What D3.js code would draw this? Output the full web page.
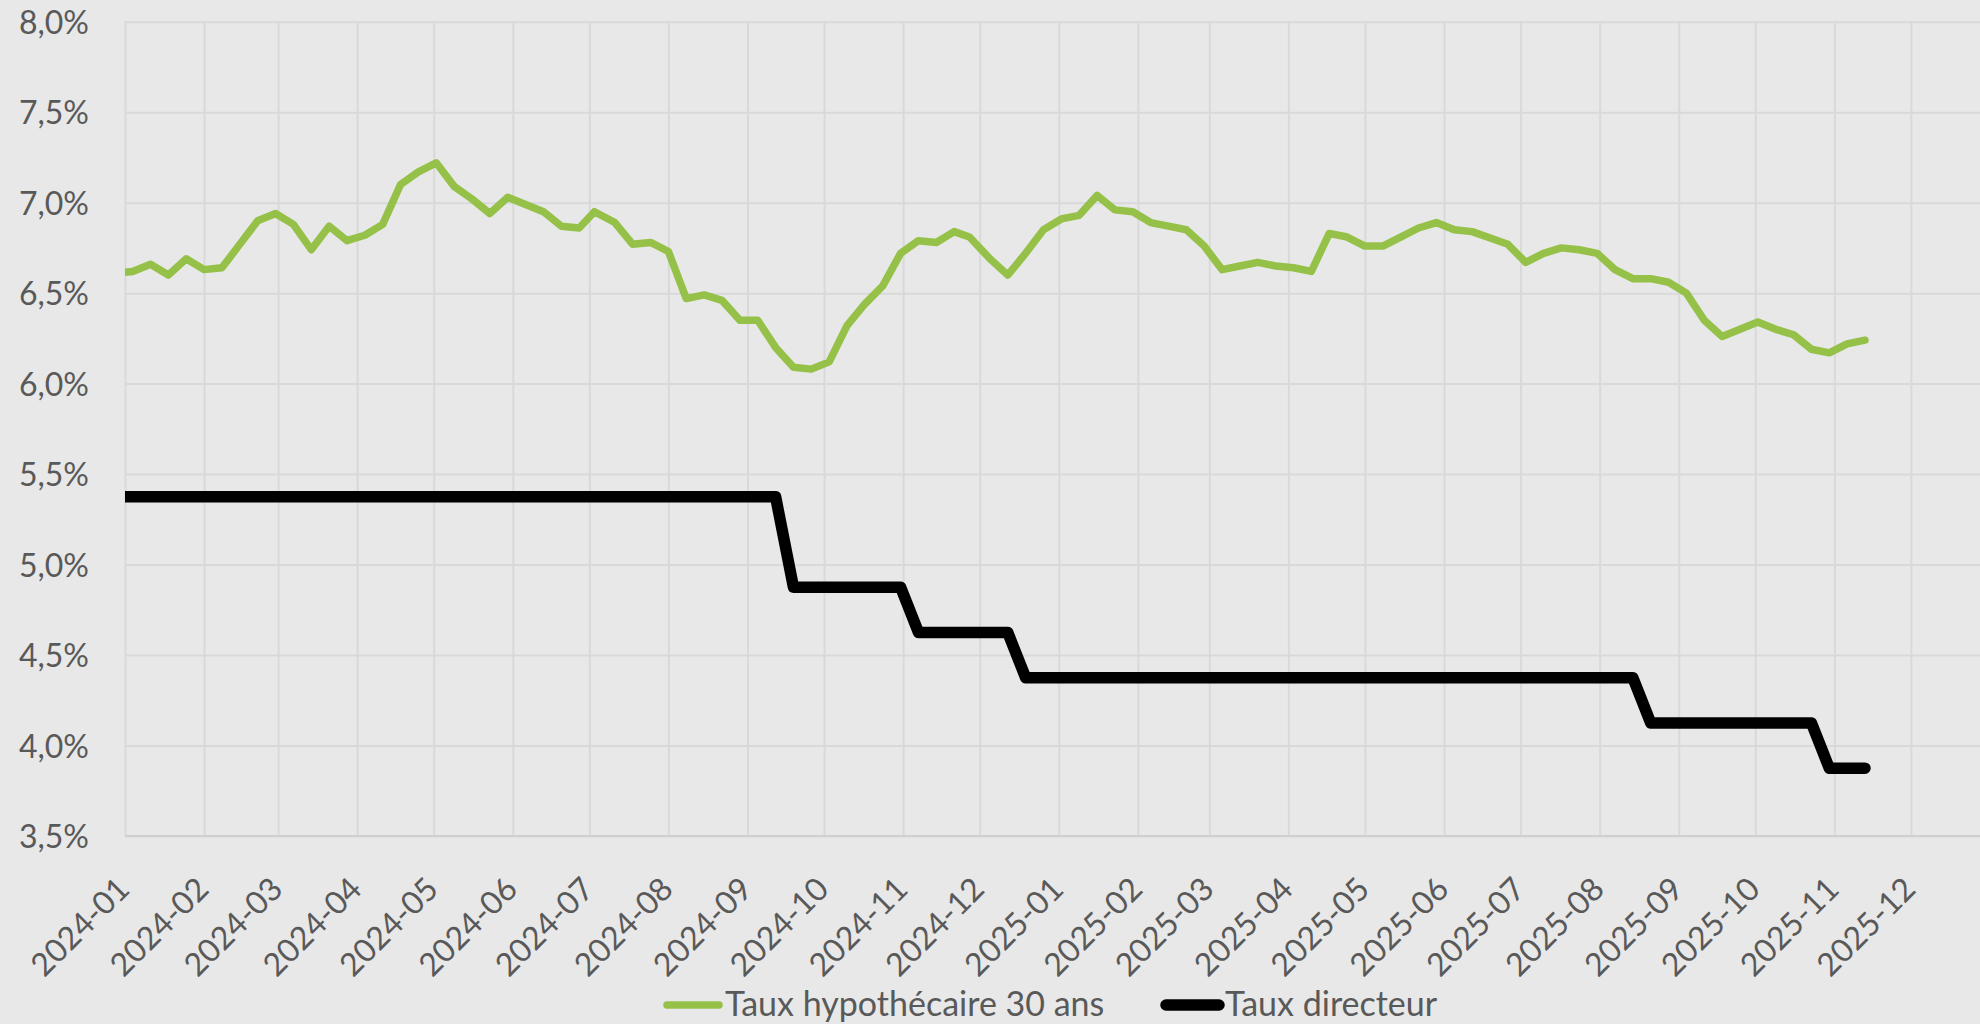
<!DOCTYPE html>
<html>
<head>
<meta charset="utf-8">
<script src="https://cdn.jsdelivr.net/npm/d3@7"></script>
<style>
  html, body { margin: 0; padding: 0; background: #e8e8e8; }
  svg { display: block; }
  text { font-family: Lato, "Open Sans", sans-serif; fill: #595959; }
</style>
</head>
<body>
<script>
// Variables
var width = 1980;
var height = 1024;
var margin = {top: 21.7, left: 125, bottom: 836};

// Data (weekly, Thursday releases)
var dates = [
  "2023-12-28",
  "2024-01-04","2024-01-11","2024-01-18","2024-01-25",
  "2024-02-01","2024-02-08","2024-02-15","2024-02-22","2024-02-29",
  "2024-03-07","2024-03-14","2024-03-21","2024-03-28",
  "2024-04-04","2024-04-11","2024-04-18","2024-04-25",
  "2024-05-02","2024-05-09","2024-05-16","2024-05-23","2024-05-30",
  "2024-06-06","2024-06-13","2024-06-20","2024-06-27",
  "2024-07-03","2024-07-11","2024-07-18","2024-07-25",
  "2024-08-01","2024-08-08","2024-08-15","2024-08-22","2024-08-29",
  "2024-09-05","2024-09-12","2024-09-19","2024-09-26",
  "2024-10-03","2024-10-10","2024-10-17","2024-10-24","2024-10-31",
  "2024-11-07","2024-11-14","2024-11-21","2024-11-27",
  "2024-12-05","2024-12-12","2024-12-19","2024-12-26",
  "2025-01-02","2025-01-09","2025-01-16","2025-01-23","2025-01-30",
  "2025-02-06","2025-02-13","2025-02-20","2025-02-27",
  "2025-03-06","2025-03-13","2025-03-20","2025-03-27",
  "2025-04-03","2025-04-10","2025-04-17","2025-04-24",
  "2025-05-01","2025-05-08","2025-05-15","2025-05-22","2025-05-29",
  "2025-06-05","2025-06-12","2025-06-18","2025-06-26",
  "2025-07-03","2025-07-10","2025-07-17","2025-07-24","2025-07-31",
  "2025-08-07","2025-08-14","2025-08-21","2025-08-28",
  "2025-09-04","2025-09-11","2025-09-18","2025-09-25",
  "2025-10-02","2025-10-09","2025-10-16","2025-10-23","2025-10-30",
  "2025-11-06","2025-11-13"
];

var hypothecaire = [
  6.61,
  6.62, 6.66, 6.60, 6.69,
  6.63, 6.64, 6.77, 6.90, 6.94,
  6.88, 6.74, 6.87, 6.79,
  6.82, 6.88, 7.10, 7.17,
  7.22, 7.09, 7.02, 6.94, 7.03,
  6.99, 6.95, 6.87, 6.86,
  6.95, 6.89, 6.77, 6.78,
  6.73, 6.47, 6.49, 6.46, 6.35,
  6.35, 6.20, 6.09, 6.08,
  6.12, 6.32, 6.44, 6.54, 6.72,
  6.79, 6.78, 6.84, 6.81,
  6.69, 6.60, 6.72, 6.85,
  6.91, 6.93, 7.04, 6.96, 6.95,
  6.89, 6.87, 6.85, 6.76,
  6.63, 6.65, 6.67, 6.65,
  6.64, 6.62, 6.83, 6.81,
  6.76, 6.76, 6.81, 6.86, 6.89,
  6.85, 6.84, 6.81, 6.77,
  6.67, 6.72, 6.75, 6.74, 6.72,
  6.63, 6.58, 6.58, 6.56,
  6.50, 6.35, 6.26, 6.30,
  6.34, 6.30, 6.27, 6.19, 6.17,
  6.22, 6.24
];

var directeur = [
  5.375,
  5.375, 5.375, 5.375, 5.375,
  5.375, 5.375, 5.375, 5.375, 5.375,
  5.375, 5.375, 5.375, 5.375,
  5.375, 5.375, 5.375, 5.375,
  5.375, 5.375, 5.375, 5.375, 5.375,
  5.375, 5.375, 5.375, 5.375,
  5.375, 5.375, 5.375, 5.375,
  5.375, 5.375, 5.375, 5.375, 5.375,
  5.375, 5.375, 4.875, 4.875,
  4.875, 4.875, 4.875, 4.875, 4.875,
  4.625, 4.625, 4.625, 4.625,
  4.625, 4.625, 4.375, 4.375,
  4.375, 4.375, 4.375, 4.375, 4.375,
  4.375, 4.375, 4.375, 4.375,
  4.375, 4.375, 4.375, 4.375,
  4.375, 4.375, 4.375, 4.375,
  4.375, 4.375, 4.375, 4.375, 4.375,
  4.375, 4.375, 4.375, 4.375,
  4.375, 4.375, 4.375, 4.375, 4.375,
  4.375, 4.375, 4.125, 4.125,
  4.125, 4.125, 4.125, 4.125,
  4.125, 4.125, 4.125, 4.125, 3.875,
  3.875, 3.875
];

var yTicks = [3.5, 4.0, 4.5, 5.0, 5.5, 6.0, 6.5, 7.0, 7.5, 8.0];
var seriesNames = ["Taux hypothécaire 30 ans", "Taux directeur"];
var seriesColors = ["#95c148", "#000000"];

var parseDate = d3.utcParse("%Y-%m-%d");
var rows = dates.map(function(d, i) {
  return {date: parseDate(d), hypo: hypothecaire[i], dir: directeur[i]};
});

// Scales
var x = d3.scaleUtc()
  .domain([parseDate("2024-01-01"), parseDate("2026-01-01")])
  .range([margin.left, 1990]);
var y = d3.scaleLinear().domain([3.5, 8]).range([margin.bottom, margin.top]);

var svg = d3.select("body").append("svg")
  .attr("width", width).attr("height", height);

svg.append("rect").attr("width", width).attr("height", height).attr("fill", "#e8e8e8");

svg.append("clipPath").attr("id", "plot-clip")
  .append("rect")
  .attr("x", margin.left).attr("y", 0)
  .attr("width", 1990 - margin.left).attr("height", height);

// Horizontal gridlines + y labels
var yAxis = svg.append("g")
  .attr("transform", "translate(" + margin.left + ",0)")
  .call(d3.axisLeft(y).tickValues(yTicks).tickSize(-(1990 - margin.left)).tickPadding(36)
    .tickFormat(function(d) { return d.toFixed(1).replace(".", ",") + "%"; }));
yAxis.select(".domain").remove();
yAxis.selectAll("line").attr("stroke", "#d9d9d9").attr("stroke-width", 2);
yAxis.selectAll("text").attr("font-size", 32).attr("fill", "#595959")
  .attr("dy", "0.36em")
  .style("font-family", "Lato, 'Open Sans', sans-serif");

// Vertical gridlines + x labels
var months = d3.utcMonth.range(parseDate("2024-01-01"), parseDate("2025-12-02"));
var xAxis = svg.append("g")
  .attr("transform", "translate(0," + margin.bottom + ")")
  .call(d3.axisBottom(x).tickValues(months).tickSize(-(margin.bottom - margin.top))
    .tickFormat(d3.utcFormat("%Y-%m")));
xAxis.select(".domain").remove();
xAxis.selectAll("line").attr("stroke", "#d9d9d9").attr("stroke-width", 2);
xAxis.selectAll("text")
  .attr("font-size", 32).attr("fill", "#595959")
  .style("font-family", "Lato, 'Open Sans', sans-serif")
  .attr("text-anchor", "end")
  .attr("dy", null)
  .attr("y", 0)
  .attr("transform", "translate(6,55) rotate(-45)");

// bottom axis line
svg.append("line")
  .attr("x1", margin.left).attr("x2", width)
  .attr("y1", y(3.5)).attr("y2", y(3.5))
  .attr("stroke", "#d0d0d0").attr("stroke-width", 2);

// Lines
var plot = svg.append("g").attr("clip-path", "url(#plot-clip)");

var hypoLine = d3.line().x(function(d) { return x(d.date); }).y(function(d) { return y(d.hypo); });
var dirLine = d3.line().x(function(d) { return x(d.date); }).y(function(d) { return y(d.dir); });

plot.append("path").datum(rows)
  .attr("d", dirLine)
  .attr("fill", "none").attr("stroke", seriesColors[1]).attr("stroke-width", 11.5)
  .attr("stroke-linejoin", "round").attr("stroke-linecap", "round");

plot.append("path").datum(rows)
  .attr("d", hypoLine)
  .attr("fill", "none").attr("stroke", seriesColors[0]).attr("stroke-width", 7.5)
  .attr("stroke-linejoin", "round").attr("stroke-linecap", "round");

// Legend
var legendItems = [
  {name: seriesNames[0], color: seriesColors[0], w: 7.5, x1: 667, x2: 719, tx: 725},
  {name: seriesNames[1], color: seriesColors[1], w: 11.5, x1: 1166, x2: 1219, tx: 1225}
];
var legend = svg.append("g");
legendItems.forEach(function(it) {
  legend.append("line")
    .attr("x1", it.x1).attr("x2", it.x2).attr("y1", 1005).attr("y2", 1005)
    .attr("stroke", it.color).attr("stroke-width", it.w).attr("stroke-linecap", "round");
  legend.append("text")
    .attr("x", it.tx).attr("y", 1016)
    .attr("font-size", 34)
    .text(it.name);
});
</script>
</body>
</html>
